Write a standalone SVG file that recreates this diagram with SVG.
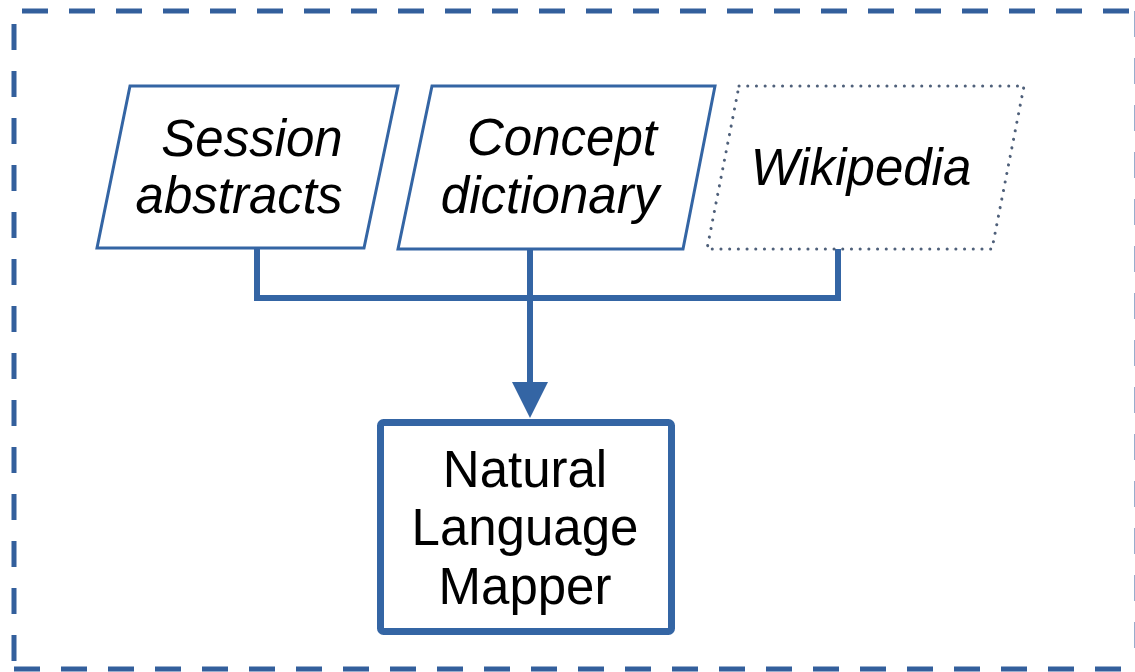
<svg xmlns="http://www.w3.org/2000/svg" width="1135" height="672" viewBox="0 0 1135 672">
<style>
.frame{fill:none;stroke:#335f9c;stroke-width:5;stroke-dasharray:26 21}
.para{fill:#fff;stroke:#3465a4;stroke-width:3;stroke-linejoin:miter}
.dotted{fill:#fff;stroke:#4f607a;stroke-width:3;stroke-dasharray:0.1 8.6;stroke-linecap:round}
.conn{fill:none;stroke:#3465a4;stroke-width:6;stroke-linejoin:miter}
.it{font-family:"Liberation Sans",Arial,sans-serif;font-style:italic;font-size:51px;fill:#000;text-anchor:middle}
.rg{font-family:"Liberation Sans",Arial,sans-serif;font-size:51px;fill:#000;text-anchor:middle}
</style>
<defs>
<marker id="arr" markerUnits="userSpaceOnUse" markerWidth="36" markerHeight="36" refX="0" refY="18" orient="auto">
<path d="M0,0 L36,18 L0,36 Z" fill="#3465a4"/>
</marker>
</defs>
<rect width="1135" height="672" fill="#fff"/>
<g id="frame">
<path class="frame" d="M22,11 H1137 M1137,11 V669 M14,24 V669 M14,669 H1137"/>
</g>
<g id="connectors">
<path class="conn" d="M257,249 V298 H838 V249"/>
<path class="conn" d="M530,249 V382" marker-end="url(#arr)"/>
</g>
<g id="session-abstracts">
<polygon class="para" points="130,86 398,86 364,248 97,248"/>
<text class="it" x="252" y="156">Session</text>
<text class="it" x="239" y="213">abstracts</text>
</g>
<g id="concept-dictionary">
<polygon class="para" points="432,86 715,86 683,249 398,249"/>
<text class="it" x="562" y="155">Concept</text>
<text class="it" x="550" y="213">dictionary</text>
</g>
<g id="wikipedia">
<polygon class="dotted" points="739,86 1024,86 992,249 707,249"/>
<text class="it" x="861" y="185">Wikipedia</text>
</g>
<g id="nlm">
<rect x="380.5" y="422.5" width="291" height="209" rx="3" fill="#fff" stroke="#3465a4" stroke-width="7"/>
<text class="rg" x="525" y="487">Natural</text>
<text class="rg" x="525" y="545">Language</text>
<text class="rg" x="525" y="604">Mapper</text>
</g>
</svg>
